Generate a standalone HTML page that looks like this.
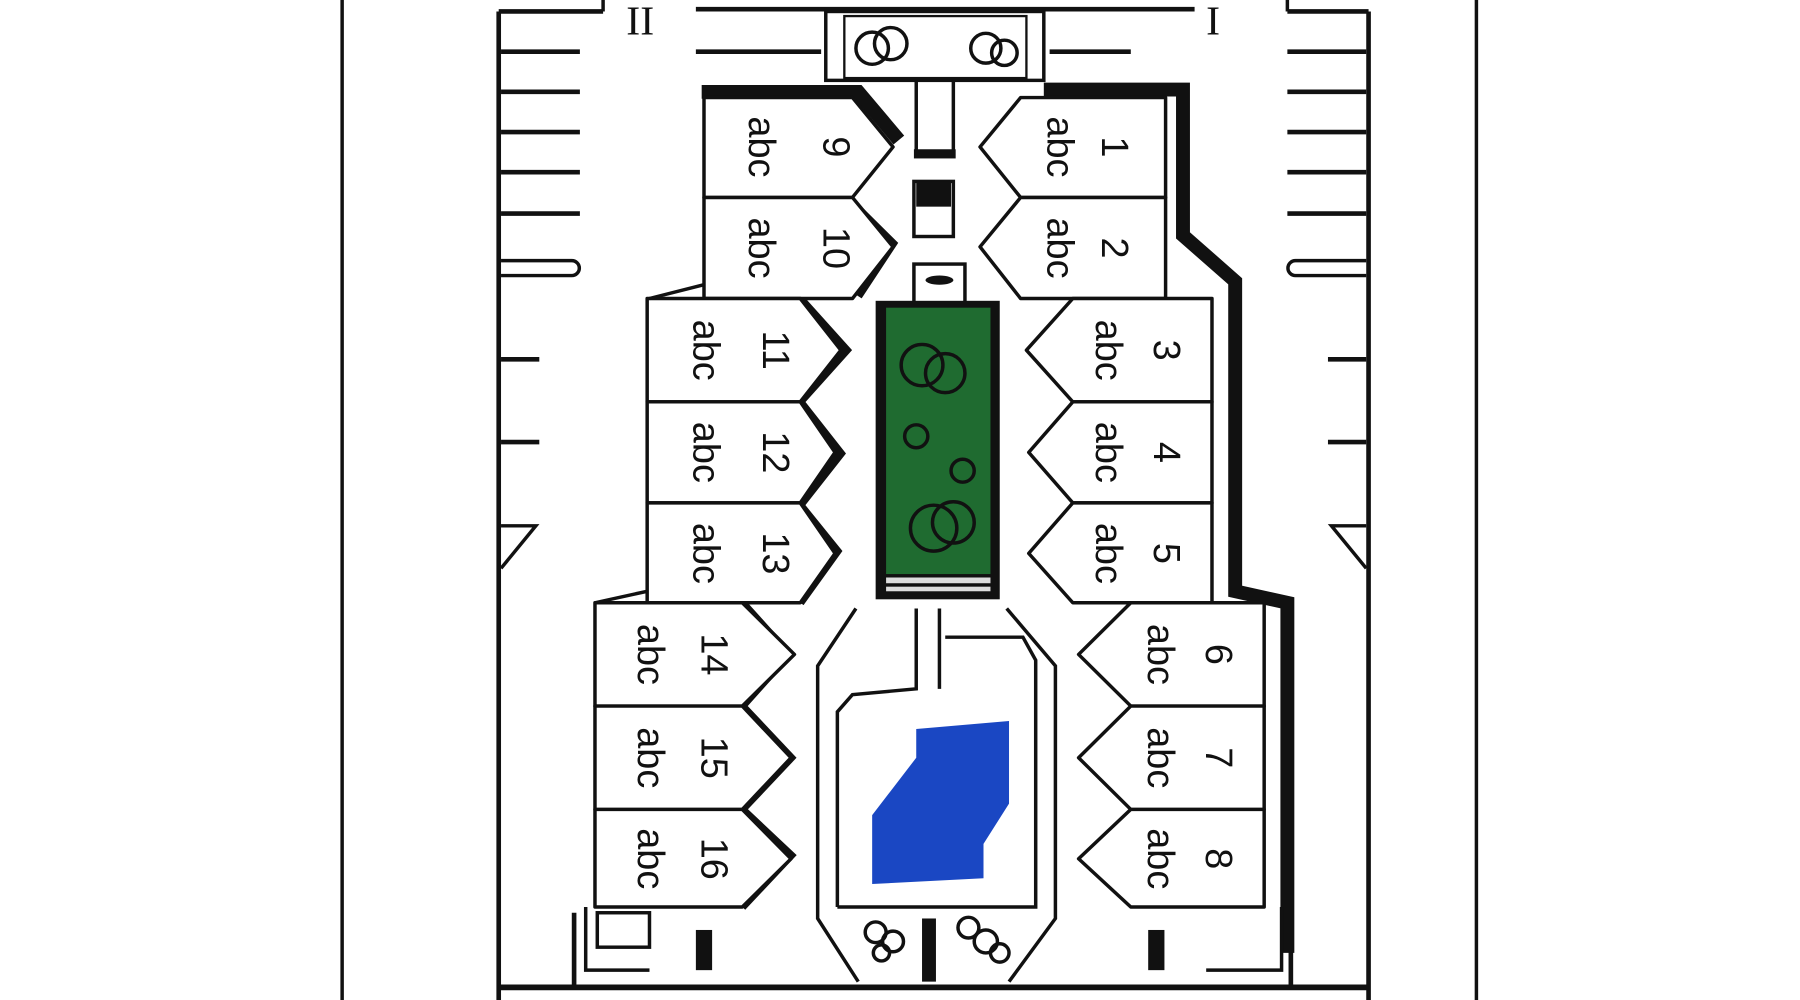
<!DOCTYPE html>
<html><head><meta charset="utf-8"><style>
html,body{margin:0;padding:0;background:#fff;width:1800px;height:1000px;overflow:hidden}
svg{display:block}
text{font-family:"Liberation Sans",sans-serif;font-size:33px;fill:#111}
</style></head><body>
<svg width="1800" height="1000" viewBox="0 0 1552 871" preserveAspectRatio="none">
<g stroke="#111" fill="none" stroke-width="3">
<line x1="295" y1="0" x2="295" y2="871"/>
<line x1="1273" y1="0" x2="1273" y2="871"/>
<line x1="430" y1="10" x2="430" y2="871" stroke-width="4"/>
<line x1="1180" y1="10" x2="1180" y2="871" stroke-width="4"/>
<line x1="430" y1="860" x2="1180" y2="860" stroke-width="5"/>
<line x1="430" y1="10" x2="520" y2="10" stroke-width="4"/>
<line x1="600" y1="8" x2="1030" y2="8" stroke-width="4"/>
<line x1="1110" y1="10" x2="1180" y2="10" stroke-width="4"/>
<line x1="520" y1="0" x2="520" y2="10"/><line x1="1110" y1="0" x2="1110" y2="10"/>
</g>
<text x="540" y="30" style="font-family:'Liberation Serif',serif;font-size:36px">II</text>
<text x="1040" y="30" style="font-family:'Liberation Serif',serif;font-size:36px">I</text>
<g stroke="#111" stroke-width="4">
<line x1="432" y1="45" x2="500" y2="45"/><line x1="432" y1="80" x2="500" y2="80"/>
<line x1="432" y1="115" x2="500" y2="115"/><line x1="432" y1="150" x2="500" y2="150"/>
<line x1="432" y1="186" x2="500" y2="186"/>
<line x1="1110" y1="45" x2="1178" y2="45"/><line x1="1110" y1="80" x2="1178" y2="80"/>
<line x1="1110" y1="115" x2="1178" y2="115"/><line x1="1110" y1="150" x2="1178" y2="150"/>
<line x1="1110" y1="186" x2="1178" y2="186"/>
<line x1="432" y1="313" x2="465" y2="313"/><line x1="432" y1="385" x2="465" y2="385"/>
<line x1="1145" y1="313" x2="1178" y2="313"/><line x1="1145" y1="385" x2="1178" y2="385"/>
<line x1="495" y1="795" x2="495" y2="858"/><line x1="1113" y1="795" x2="1113" y2="858"/>
<line x1="600" y1="45" x2="708" y2="45"/><line x1="905" y1="45" x2="975" y2="45"/>
</g>
<g fill="none" stroke="#111" stroke-width="3">
<path d="M432 227 H493 a6 6 0 0 1 0 13 H432"/>
<path d="M1178 227 H1117 a6 6 0 0 0 0 13 H1178"/>
<path d="M432 458 H462 L432 495"/>
<path d="M1178 458 H1148 L1178 495"/>
<rect x="712" y="10" width="188" height="60"/>
<rect x="728" y="14" width="157" height="54" stroke-width="2"/>
<circle cx="752" cy="42" r="14"/><circle cx="768" cy="38" r="14"/>
<circle cx="850" cy="42" r="13"/><circle cx="866" cy="46" r="11"/>
<line x1="790" y1="70" x2="790" y2="135"/><line x1="822" y1="70" x2="822" y2="135"/>
<rect x="788" y="158" width="34" height="48"/>
<rect x="788" y="230" width="44" height="46"/>
</g>
<rect x="788" y="130" width="36" height="8" fill="#111"/>
<rect x="790" y="158" width="30" height="22" fill="#111"/>
<ellipse cx="810" cy="244" rx="12" ry="4" fill="#111"/>
<rect x="755" y="262" width="107" height="260" fill="#111"/>
<rect x="764" y="268" width="90" height="232" fill="#1f6b30"/>
<rect x="764" y="503" width="90" height="5" fill="#ddd"/><rect x="764" y="511" width="90" height="4" fill="#ddd"/>
<g fill="none" stroke="#111" stroke-width="3">
<circle cx="795" cy="318" r="18"/><circle cx="815" cy="325" r="17"/>
<circle cx="790" cy="380" r="10"/><circle cx="830" cy="410" r="10"/>
<circle cx="805" cy="460" r="20"/><circle cx="822" cy="455" r="18"/>
</g>
<g fill="none" stroke="#111" stroke-width="12" stroke-linejoin="miter">
<polyline points="605,80 740,80 775,122"/>
<polyline points="900,78 1020,78 1020,205 1065,245 1065,515 1110,525 1110,830"/>
</g>
<g fill="none" stroke="#111" stroke-width="7">
<polyline points="730,172 770,212 740,258"/>
<polyline points="690,260 730,305 690,350 725,395 690,440 722,480 690,525"/>
<polyline points="640,525 680,570 640,615 682,660 640,705 682,745 640,790"/>
</g>
<g fill="#fff" stroke="#111" stroke-width="3" stroke-linejoin="round">
<polygon points="607,85 735,85 770,128 735,172 607,172"/>
<polygon points="607,172 735,172 770,215 735,260 607,260"/>
<polygon points="558,260 690,260 725,305 690,350 558,350"/>
<polygon points="558,350 690,350 720,394 690,438 558,438"/>
<polygon points="558,438 690,438 720,482 690,525 558,525"/>
<polygon points="513,525 640,525 685,570 640,615 513,615"/>
<polygon points="513,615 640,615 682,660 640,705 513,705"/>
<polygon points="513,705 640,705 682,748 640,790 513,790"/>
<polygon points="1005,85 880,85 845,128 880,172 1005,172"/>
<polygon points="1005,172 880,172 845,215 880,260 1005,260"/>
<polygon points="1045,260 925,260 885,305 925,350 1045,350"/>
<polygon points="1045,350 925,350 887,394 925,438 1045,438"/>
<polygon points="1045,438 925,438 887,482 925,525 1045,525"/>
<polygon points="1090,525 975,525 930,570 975,615 1090,615"/>
<polygon points="1090,615 975,615 930,660 975,705 1090,705"/>
<polygon points="1090,705 975,705 930,748 975,790 1090,790"/>
<line x1="607" y1="248" x2="560" y2="260"/>
<line x1="558" y1="515" x2="513" y2="525"/>
</g>
<g>
<text transform="translate(710,128) rotate(90)" text-anchor="middle">9</text>
<text transform="translate(646,128) rotate(90)" text-anchor="middle">abc</text>
<text transform="translate(710,216) rotate(90)" text-anchor="middle">10</text>
<text transform="translate(646,216) rotate(90)" text-anchor="middle">abc</text>
<text transform="translate(658,305) rotate(90)" text-anchor="middle">11</text>
<text transform="translate(598,305) rotate(90)" text-anchor="middle">abc</text>
<text transform="translate(658,394) rotate(90)" text-anchor="middle">12</text>
<text transform="translate(598,394) rotate(90)" text-anchor="middle">abc</text>
<text transform="translate(658,482) rotate(90)" text-anchor="middle">13</text>
<text transform="translate(598,482) rotate(90)" text-anchor="middle">abc</text>
<text transform="translate(605,570) rotate(90)" text-anchor="middle">14</text>
<text transform="translate(550,570) rotate(90)" text-anchor="middle">abc</text>
<text transform="translate(605,660) rotate(90)" text-anchor="middle">15</text>
<text transform="translate(550,660) rotate(90)" text-anchor="middle">abc</text>
<text transform="translate(605,748) rotate(90)" text-anchor="middle">16</text>
<text transform="translate(550,748) rotate(90)" text-anchor="middle">abc</text>
<text transform="translate(950,128) rotate(90)" text-anchor="middle">1</text>
<text transform="translate(903,128) rotate(90)" text-anchor="middle">abc</text>
<text transform="translate(950,216) rotate(90)" text-anchor="middle">2</text>
<text transform="translate(903,216) rotate(90)" text-anchor="middle">abc</text>
<text transform="translate(995,305) rotate(90)" text-anchor="middle">3</text>
<text transform="translate(945,305) rotate(90)" text-anchor="middle">abc</text>
<text transform="translate(995,394) rotate(90)" text-anchor="middle">4</text>
<text transform="translate(945,394) rotate(90)" text-anchor="middle">abc</text>
<text transform="translate(995,482) rotate(90)" text-anchor="middle">5</text>
<text transform="translate(945,482) rotate(90)" text-anchor="middle">abc</text>
<text transform="translate(1040,570) rotate(90)" text-anchor="middle">6</text>
<text transform="translate(990,570) rotate(90)" text-anchor="middle">abc</text>
<text transform="translate(1040,660) rotate(90)" text-anchor="middle">7</text>
<text transform="translate(990,660) rotate(90)" text-anchor="middle">abc</text>
<text transform="translate(1040,748) rotate(90)" text-anchor="middle">8</text>
<text transform="translate(990,748) rotate(90)" text-anchor="middle">abc</text>
</g>
<g fill="none" stroke="#111" stroke-width="3">
<polyline points="738,530 705,580 705,800 740,855"/>
<polyline points="868,530 910,580 910,800 870,855"/>
<polyline points="790,530 790,600 735,605 722,620 722,790"/>
<polyline points="810,530 810,600"/>
<polyline points="815,555 882,555 893,575 893,790 722,790"/>
<circle cx="755" cy="812" r="9"/><circle cx="770" cy="820" r="9"/><circle cx="760" cy="830" r="7"/>
<circle cx="835" cy="808" r="9"/><circle cx="850" cy="820" r="10"/><circle cx="862" cy="830" r="8"/>
<polyline points="505,790 505,845 560,845"/>
<rect x="515" y="795" width="45" height="30"/>
<polyline points="1105,790 1105,845 1040,845"/>
</g>
<polygon points="790,635 870,628 870,700 848,735 848,765 752,770 752,710 790,660" fill="#1a47c3"/>
<rect x="600" y="810" width="14" height="35" fill="#111"/><rect x="990" y="810" width="14" height="35" fill="#111"/>
<rect x="795" y="800" width="12" height="55" fill="#111"/>
</svg>
</body></html>
